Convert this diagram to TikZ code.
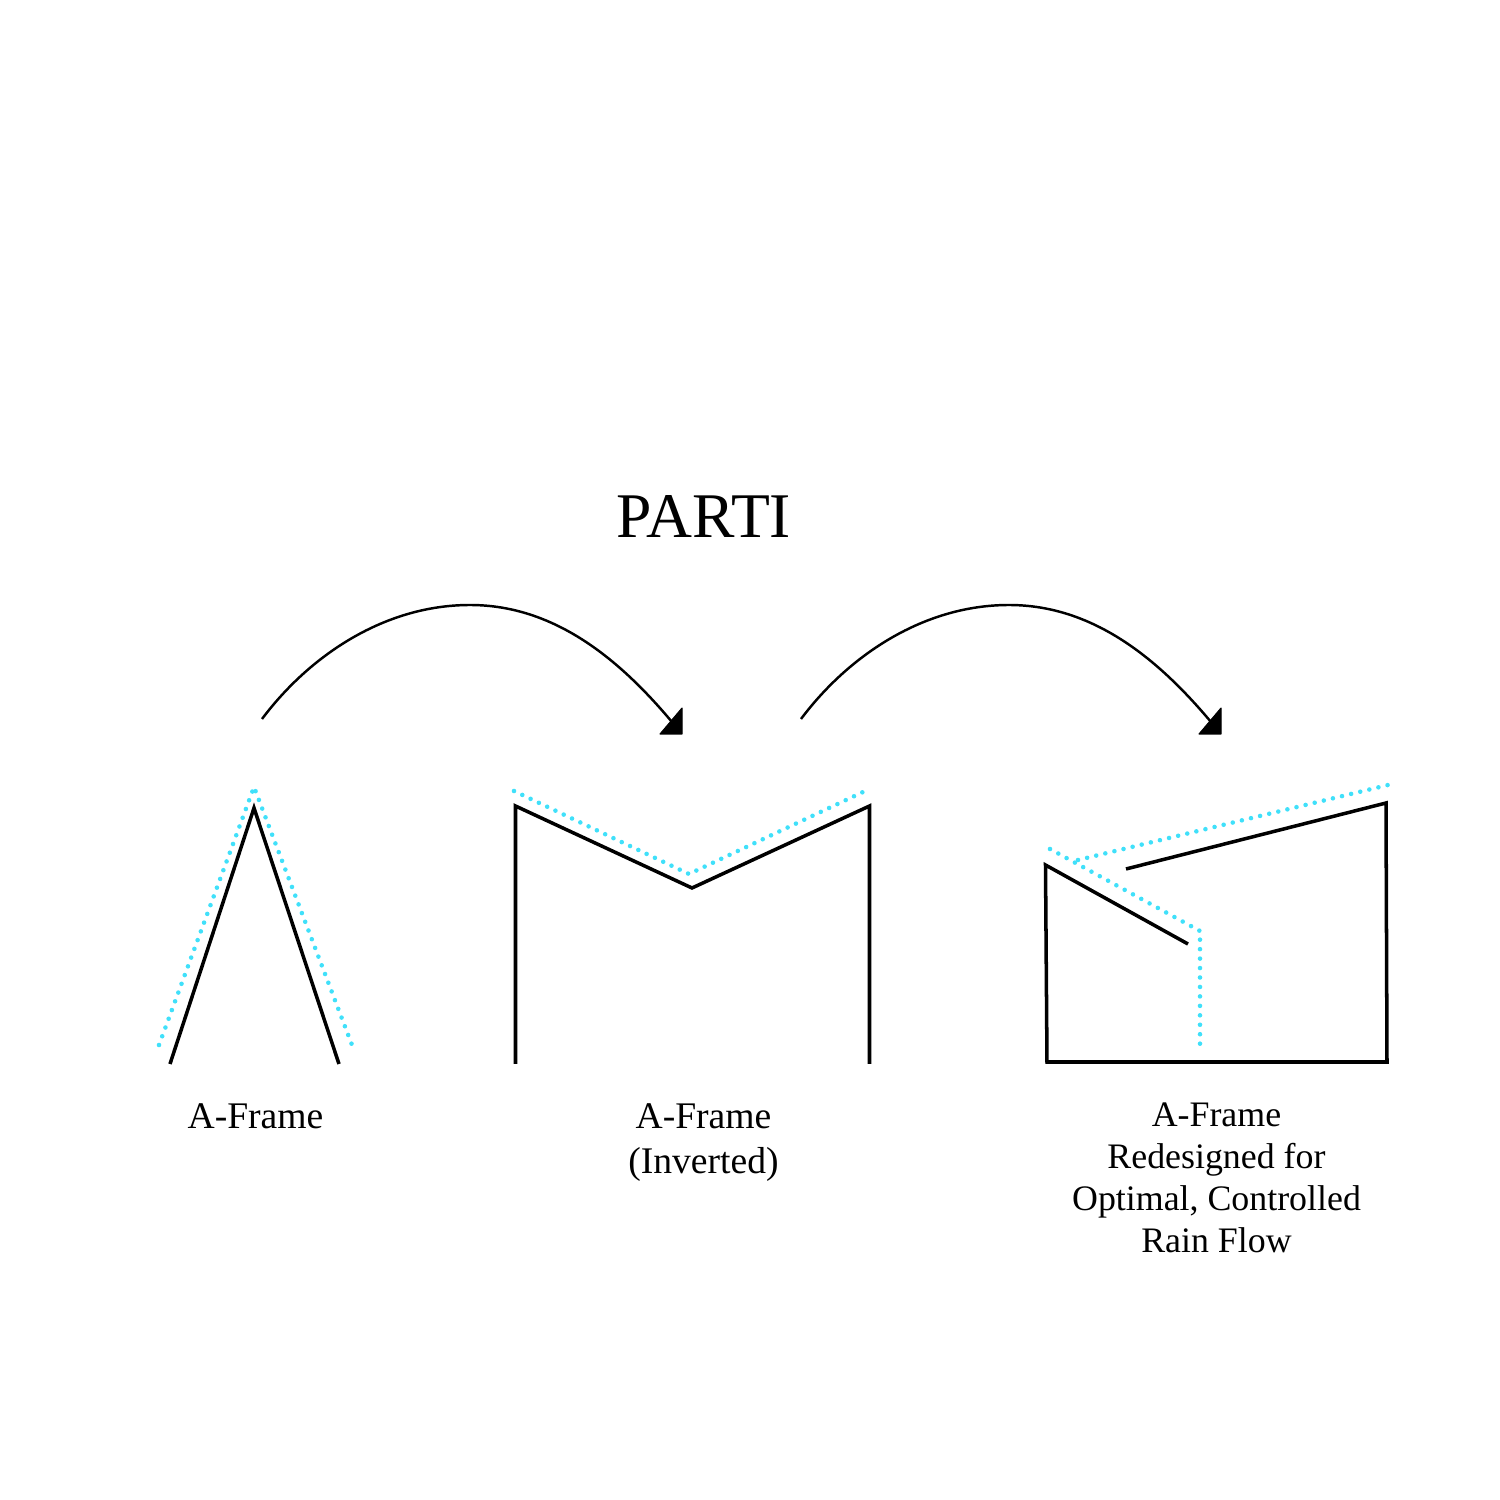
\documentclass[tikz,border=0pt]{standalone}
\usepackage{fontspec}
\setmainfont{Liberation Serif}
\begin{document}
\begin{tikzpicture}
    % Define colors
    \definecolor{rainblue}{RGB}{64,224,250}

    % Define styles
    \tikzset{
        frameline/.style={
            draw=black,
            line width=1pt,
            line join=miter
        },
        rainline/.style={
            draw=rainblue,
            line width=1.3pt,
            line cap=round,
            dash pattern=on 0pt off #1
        },
        rainline/.default=2.65pt,
        sweep/.style={
            draw=black,
            line width=0.7pt
        },
        sweephead/.style={
            fill=black,
            draw=black,
            line width=0.3pt,
            line join=round
        },
        caption/.style={
            align=center,
            inner sep=0pt,
            font=\fontsize{10.7}{12.8}\selectfont
        }
    }

    \useasboundingbox (0,0) rectangle (15,15);

    % Title
    \node[font=\fontsize{18.1}{20}\selectfont, inner sep=0pt, anchor=base] (parti) at (7.04, 9.62) {PARTI};

    % A-Frame
    \draw[frameline] (1.70,4.36) -- (2.54,6.92) -- (3.39,4.36);
    \draw[rainline] (1.59,4.55) -- (2.54,7.13) -- (3.52,4.55);
    \node[caption] (aframe) at (2.555, 3.84) {A-Frame};

    % Inverted A-Frame
    \draw[frameline] (5.155,4.36) -- (5.155,6.94) -- (6.92,6.12) -- (8.695,6.94) -- (8.695,4.36);
    \draw[rainline=2.61pt] (5.14,7.09) -- (6.89,6.26) -- (8.63,7.08);
    \node[caption] (inverted) at (7.035, 3.57) {A-Frame\\(Inverted)};

    % Redesigned A-Frame
    \draw[frameline] (11.88,5.56) -- (10.455,6.35) -- (10.47,4.38) -- (13.87,4.38) -- (13.86,6.97) -- (11.26,6.31);
    \draw[rainline=2.69pt] (10.50,6.51) -- (12.00,5.69) -- (12.00,4.55);
    \draw[rainline=2.665pt] (10.78,6.40) -- (13.88,7.15);
    \node[caption, font=\fontsize{10.2}{12}\selectfont] (redesigned) at (12.165, 3.22) {A-Frame\\Redesigned for\\Optimal, Controlled\\Rain Flow};

    % Arrow ends
    \coordinate (start1) at (2.62,7.81);
    \coordinate (top1) at (4.70,8.95);
    \coordinate (end1) at (6.72,7.78);
    \coordinate (start2) at (8.01,7.81);
    \coordinate (top2) at (10.09,8.95);
    \coordinate (end2) at (12.11,7.78);

    % Arrows between the frames
    \draw[sweep] (start1) .. controls (3.10,8.45) and (3.85,8.95) .. (top1) .. controls (5.55,8.95) and (6.20,8.40) .. (end1);
    \fill[sweephead] (6.82,7.92) -- (6.60,7.66) -- (6.82,7.66) -- cycle;
    \draw[sweep] (start2) .. controls (8.49,8.45) and (9.24,8.95) .. (top2) .. controls (10.94,8.95) and (11.59,8.40) .. (end2);
    \fill[sweephead] (12.21,7.92) -- (11.99,7.66) -- (12.21,7.66) -- cycle;

\end{tikzpicture}
\end{document}
